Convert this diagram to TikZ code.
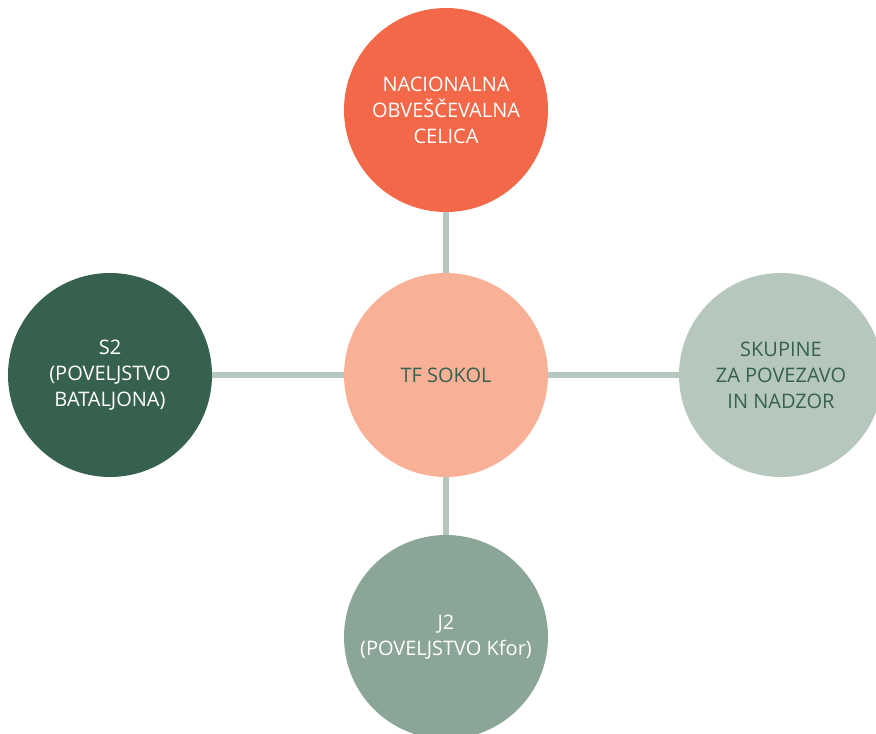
\documentclass[tikz,border=0pt]{standalone}
\usepackage{fontspec}
\setmainfont{Open Sans}
\definecolor{cRed}{HTML}{F26849}
\definecolor{cSalmon}{HTML}{F8B097}
\definecolor{cDark}{HTML}{37614F}
\definecolor{cLight}{HTML}{B6C7BE}
\definecolor{cMid}{HTML}{8BA597}
\definecolor{cLine}{HTML}{B6C7BE}
\begin{document}
\begin{tikzpicture}[x=1pt,y=-1pt,
  bubble/.style={circle,minimum size=204pt,inner sep=0pt,align=center,
    font=\fontsize{20}{26}\selectfont},
  link/.style={draw=cLine,line width=6pt}]
\useasboundingbox (0,0) rectangle (876,734);
\begin{scope}
\clip (0,0) rectangle (876,734);
\node[bubble,fill=cRed,text=white] (top) at (446,110) {NACIONALNA\\OBVEŠČEVALNA\\CELICA};
\node[bubble,fill=cSalmon,text=cDark] (mid) at (446,375) {TF SOKOL};
\node[bubble,fill=cDark,text=white] (left) at (110,375) {S2\\(POVELJSTVO\\BATALJONA)};
\node[bubble,fill=cLight,text=cDark] (right) at (781,375) {SKUPINE\\ZA POVEZAVO\\IN NADZOR};
\node[bubble,fill=cMid,text=white] (bot) at (446,637) {J2\\(POVELJSTVO Kfor)};
\draw[link] (top.south) -- (mid.north);
\draw[link] (mid.south) -- (bot.north);
\draw[link] (left.east) -- (mid.west);
\draw[link] (mid.east) -- (right.west);
\end{scope}
\end{tikzpicture}
\end{document}
